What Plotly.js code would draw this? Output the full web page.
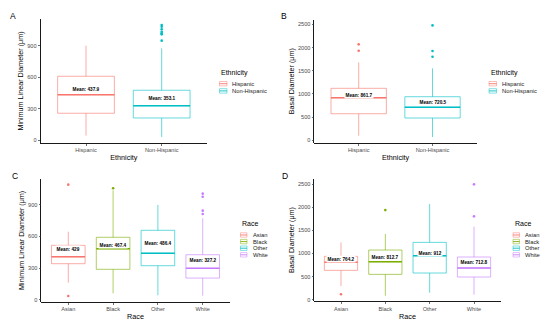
<!DOCTYPE html>
<html><head><meta charset="utf-8">
<script src="https://cdn.plot.ly/plotly-3.0.1.min.js"></script>
<style>html,body{margin:0;padding:0;background:#fff}#chart{width:550px;height:326px}</style>
</head><body><div id="chart"></div>
<script>
// ---------- categories ----------
const ethnicities = ["Hispanic", "Non-Hispanic"];
const races = ["Asian", "Black", "Other", "White"];
const ethColors = ["#F8766D", "#00BFC4"];
const raceColors = ["#F8766D", "#7CAE00", "#00BFC4", "#C77CFF"];

// ---------- A: Minimum linear diameter by ethnicity ----------
const mldEthQ1 = [257, 212];
const mldEthMedian = [434, 329];
const mldEthQ3 = [609, 476];
const mldEthLower = [44, 31];
const mldEthUpper = [900, 875];
const mldEthMean = [437.9, 353.1];
const mldEthOutliers = [[], [948, 1008, 1018, 1033, 1056, 1081, 1097]];

// ---------- B: Basal diameter by ethnicity ----------
const bdEthQ1 = [573, 481];
const bdEthMedian = [918, 711];
const bdEthQ3 = [1121, 940];
const bdEthLower = [99, 71];
const bdEthUpper = [1681, 1552];
const bdEthMean = [861.7, 720.5];
const bdEthOutliers = [[1931, 2069], [1802, 1925, 2478]];

// ---------- C: Minimum linear diameter by race ----------
const mldRaceQ1 = [341, 288, 322, 205];
const mldRaceMedian = [407, 483, 439, 297];
const mldRaceQ3 = [515, 591, 657, 426];
const mldRaceLower = [161, 61, 42, 38];
const mldRaceUpper = [644, 1035, 897, 771];
const mldRaceMean = [429, 467.4, 486.4, 327.2];
const mldRaceOutliers = [[35, 1089], [1055], [], [812, 843, 975, 1004]];

// ---------- D: Basal diameter by race ----------
const bdRaceQ1 = [635, 548, 577, 491];
const bdRaceMedian = [808, 822, 951, 685];
const bdRaceQ3 = [938, 1074, 1240, 923];
const bdRaceLower = [296, 86, 151, 108];
const bdRaceUpper = [1240, 1420, 2068, 1578];
const bdRaceMean = [764.2, 812.7, 912, 712.8];
const bdRaceOutliers = [[117], [1938], [], [1802, 2494]];

const yTitleMLD = "Minimum Linear Diameter (μm)";
const yTitleBD = "Basal Diameter (μm)";

// ---------- layout helpers (pixel geometry) ----------
const W = 550, H = 326;
const fx = p => p / W, fy = p => 1 - p / H;
const FONT = "Liberation Sans, Arial, Helvetica, sans-serif";

const panels = [
  {tag: "A", cats: ethnicities, colors: ethColors, q1: mldEthQ1, med: mldEthMedian, q3: mldEthQ3, lo: mldEthLower, hi: mldEthUpper, mean: mldEthMean, out: mldEthOutliers,
   xTitle: "Ethnicity", legendTitle: "Ethnicity", yTitle: yTitleMLD, dtick: 300,
   box: [40.6, 207.1, 19.4, 142.6], tagPos: [13, 16], leg: {x: 219, ty: 73, y0: 83.7, dy: 7.2, kw: 7.5, tx: 230}},
  {tag: "B", cats: ethnicities, colors: ethColors, q1: bdEthQ1, med: bdEthMedian, q3: bdEthQ3, lo: bdEthLower, hi: bdEthUpper, mean: bdEthMean, out: bdEthOutliers,
   xTitle: "Ethnicity", legendTitle: "Ethnicity", yTitle: yTitleBD, dtick: 500,
   box: [314.4, 476.8, 19.8, 142.6], tagPos: [283.5, 16], leg: {x: 488.5, ty: 73, y0: 83.7, dy: 7.2, kw: 7.5, tx: 499.5}},
  {tag: "C", cats: races, colors: raceColors, q1: mldRaceQ1, med: mldRaceMedian, q3: mldRaceQ3, lo: mldRaceLower, hi: mldRaceUpper, mean: mldRaceMean, out: mldRaceOutliers,
   xTitle: "Race", legendTitle: "Race", yTitle: yTitleMLD, dtick: 300,
   box: [41.4, 229.6, 179.1, 301.6], tagPos: [15, 175.7], leg: {x: 240, ty: 223.3, y0: 235, dy: 6.6, kw: 6.5, tx: 250.5}},
  {tag: "D", cats: races, colors: raceColors, q1: bdRaceQ1, med: bdRaceMedian, q3: bdRaceQ3, lo: bdRaceLower, hi: bdRaceUpper, mean: bdRaceMean, out: bdRaceOutliers,
   xTitle: "Race", legendTitle: "Race", yTitle: yTitleBD, dtick: 500,
   box: [314.4, 500.6, 178.8, 301.3], tagPos: [285, 175.7], leg: {x: 512.5, ty: 223.3, y0: 235, dy: 6.6, kw: 6.5, tx: 523}}
];

function rgba(hex, a) {
  const n = parseInt(hex.slice(1), 16);
  return `rgba(${(n >> 16) & 255},${(n >> 8) & 255},${n & 255},${a})`;
}

const data = [];
const layout = {
  width: W, height: H, margin: {l: 0, r: 0, t: 0, b: 0},
  paper_bgcolor: "white", plot_bgcolor: "white",
  showlegend: false, boxmode: "overlay",
  font: {family: FONT},
  shapes: [], annotations: []
};

panels.forEach((p, k) => {
  const sfx = k === 0 ? "" : String(k + 1);
  const xa = "x" + sfx, ya = "y" + sfx;
  const n = p.cats.length;
  const allVals = p.lo.concat(p.hi, ...p.out);
  const vmin = Math.min(...allVals), vmax = Math.max(...allVals);
  const span = vmax - vmin;
  const [L, R, T, B] = p.box;

  layout["xaxis" + sfx] = {
    domain: [fx(L), fx(R)], anchor: ya, type: "category",
    categoryorder: "array", categoryarray: p.cats, range: [-0.6, n - 0.4],
    showline: true, linecolor: "#000", linewidth: 0.9, showgrid: false, zeroline: false,
    ticks: "outside", ticklen: 2, tickwidth: 0.7, tickcolor: "#333",
    tickfont: {size: 5.6, color: "#4D4D4D", family: FONT},
    title: {text: p.xTitle, font: {size: 7.2, color: "#000", family: FONT}, standoff: 2},
    fixedrange: true
  };
  layout["yaxis" + sfx] = {
    domain: [fy(B), fy(T)], anchor: xa,
    range: [vmin - 0.05 * span, vmax + 0.05 * span], tick0: 0, dtick: p.dtick,
    showline: true, linecolor: "#000", linewidth: 0.9, showgrid: false, zeroline: false,
    ticks: "outside", ticklen: 2, tickwidth: 0.7, tickcolor: "#333",
    tickfont: {size: 5.6, color: "#4D4D4D", family: FONT},
    title: {text: p.yTitle, font: {size: 7.2, color: "#000", family: FONT}, standoff: 2},
    fixedrange: true
  };

  p.cats.forEach((c, i) => {
    const col = p.colors[i];
    data.push({
      type: "box", xaxis: xa, yaxis: ya, x: [c],
      q1: [p.q1[i]], median: [p.med[i]], q3: [p.q3[i]],
      lowerfence: [p.lo[i]], upperfence: [p.hi[i]],
      width: 0.75, whiskerwidth: 0, boxpoints: false,
      line: {color: rgba(col, 0.6), width: 1}, fillcolor: "white",
      hoverinfo: "skip", showlegend: false
    });
    if (p.out[i].length) {
      data.push({
        type: "scatter", mode: "markers", xaxis: xa, yaxis: ya,
        x: p.out[i].map(() => c), y: p.out[i],
        marker: {size: 2.6, color: col}, hoverinfo: "skip", showlegend: false
      });
    }
    layout.shapes.push({
      type: "line", xref: xa, yref: ya, x0: i - 0.375, x1: i + 0.375,
      y0: p.med[i], y1: p.med[i], line: {color: col, width: 1.5}
    });
    layout.annotations.push({
      xref: xa, yref: ya, x: c, y: p.mean[i], yshift: 5,
      text: "Mean: " + p.mean[i], showarrow: false,
      bgcolor: "white", borderpad: 0.6,
      font: {size: 4.7, color: "#000", family: FONT, weight: "bold"}
    });
  });

  // panel tag
  layout.annotations.push({
    xref: "paper", yref: "paper", x: fx(p.tagPos[0]), y: fy(p.tagPos[1]),
    text: p.tag, showarrow: false, xanchor: "center", yanchor: "middle",
    font: {size: 8.5, color: "#000", family: FONT}
  });

  // legend (drawn by hand, ggplot-like compact spacing)
  const lg = p.leg;
  layout.annotations.push({
    xref: "paper", yref: "paper", x: fx(lg.x), y: fy(lg.ty),
    text: p.legendTitle, showarrow: false, xanchor: "left", yanchor: "middle",
    font: {size: 7, color: "#000", family: FONT}
  });
  p.cats.forEach((c, i) => {
    const yc = lg.y0 + i * lg.dy;
    const col = p.colors[i];
    layout.shapes.push({
      type: "rect", xref: "paper", yref: "paper",
      x0: fx(lg.x + 0.5), x1: fx(lg.x + 0.5 + lg.kw), y0: fy(yc - 2.2), y1: fy(yc + 2.2),
      line: {color: rgba(col, 0.6), width: 0.8}, fillcolor: "white"
    });
    layout.shapes.push({
      type: "line", xref: "paper", yref: "paper",
      x0: fx(lg.x + 0.5), x1: fx(lg.x + 0.5 + lg.kw), y0: fy(yc), y1: fy(yc),
      line: {color: col, width: 0.9}
    });
    layout.annotations.push({
      xref: "paper", yref: "paper", x: fx(lg.tx), y: fy(yc),
      text: c, showarrow: false, xanchor: "left", yanchor: "middle",
      font: {size: 5.8, color: "#222", family: FONT}
    });
  });
});

Plotly.newPlot("chart", data, layout, {staticPlot: true, displayModeBar: false});
</script>
</body></html>
